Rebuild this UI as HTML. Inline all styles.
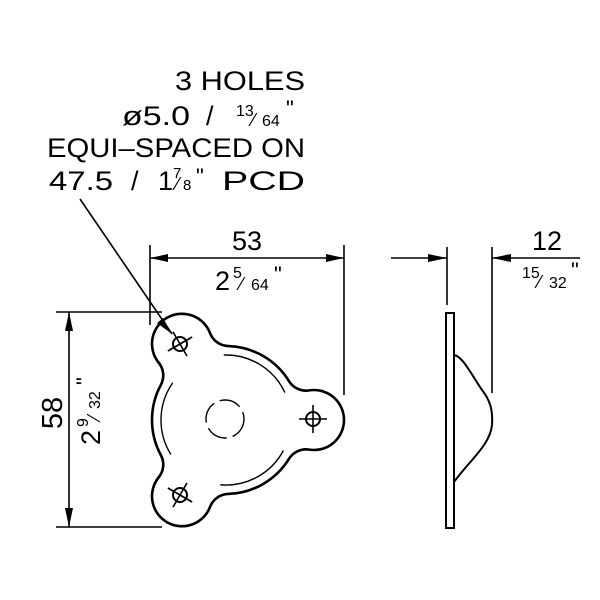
<!DOCTYPE html>
<html><head><meta charset="utf-8"><style>
html,body{margin:0;padding:0;background:#fff}
svg{display:block}
text{font-family:"Liberation Sans",sans-serif;fill:#000}
</style></head><body>
<svg id="s" width="600" height="600" viewBox="0 0 600 600" xmlns="http://www.w3.org/2000/svg">
<g stroke="#000" fill="none" stroke-width="1.6">
<line x1="150" y1="245" x2="150" y2="325"/>
<line x1="344" y1="245" x2="344" y2="395"/>
<line x1="150" y1="258" x2="344" y2="258"/>
<line x1="56" y1="312" x2="162" y2="312"/>
<line x1="56" y1="527" x2="162" y2="527"/>
<line x1="69" y1="312" x2="69" y2="527"/>
<line x1="447" y1="247" x2="447" y2="305"/>
<line x1="492" y1="247" x2="492" y2="393"/>
<line x1="391" y1="258" x2="447" y2="258"/>
<line x1="492" y1="258" x2="580" y2="258"/>
<line x1="80" y1="199" x2="172" y2="334"/>
<rect x="446" y="313" width="8" height="215" stroke-width="2"/>
<path d="M454 355 C462 356 470 372 482 390 C490 400 493 410 492 425 C490 445 470 460 454 482" stroke-width="2"/>
</g>
<g fill="#000">
<polygon points="150,258 168,254 168,262"/>
<polygon points="344,258 326,254 326,262"/>
<polygon points="69,312 65,331 73,331"/>
<polygon points="69,527 65,508 73,508"/>
<polygon points="447,258 428,254 428,262"/>
<polygon points="492,258 511,254 511,262"/>
<polygon points="172,334 157,323 163,318"/>
</g>
<g id="front" stroke="#000" fill="none"></g>
<g font-size="27">
<text x="305" y="90" text-anchor="end" textLength="130" lengthAdjust="spacingAndGlyphs">3 HOLES</text>
<text x="122" y="125" textLength="68" lengthAdjust="spacingAndGlyphs">ø5.0</text>
<text x="206" y="125">/</text>
<text x="236" y="116" font-size="16">13</text>
<text x="252" y="126" font-size="18">⁄</text>
<text x="262" y="126" font-size="16">64</text>
<text x="286" y="116" font-size="22">"</text>
<text x="47" y="157" textLength="258" lengthAdjust="spacingAndGlyphs">EQUI–SPACED ON</text>
<text x="49" y="190" textLength="64" lengthAdjust="spacingAndGlyphs">47.5</text>
<text x="131" y="190">/</text>
<text x="158" y="190">1</text>
<text x="173" y="178" font-size="15">7</text>
<text x="176" y="190" font-size="18">⁄</text>
<text x="183" y="190" font-size="15">8</text>
<text x="196" y="184" font-size="22">"</text>
<text x="222" y="190" textLength="83" lengthAdjust="spacingAndGlyphs">PCD</text>
<text x="247" y="250" text-anchor="middle">53</text>
<text x="215" y="290">2</text>
<text x="233" y="278" font-size="16">5</text>
<text x="240" y="290" font-size="18">⁄</text>
<text x="251" y="290" font-size="16">64</text>
<text x="274" y="282" font-size="22">"</text>
<text x="532" y="250">12</text>
<text x="522" y="278" font-size="16">15</text>
<text x="538" y="288" font-size="18">⁄</text>
<text x="549" y="288" font-size="16">32</text>
<text x="571" y="278" font-size="22">"</text>
<g transform="translate(62,413) rotate(-90)"><text x="0" y="0" text-anchor="middle" font-size="29">58</text></g>
<g transform="translate(100,445) rotate(-90)">
<text x="0" y="0">2</text>
<text x="18" y="-12" font-size="16">9</text>
<text x="26" y="0" font-size="18">⁄</text>
<text x="36" y="0" font-size="16">32</text>
<text x="60" y="-8" font-size="22">"</text>
</g>
</g>
</svg>
<script>
(function(){
var g=document.getElementById('front'),NS='http://www.w3.org/2000/svg';
var cx=226,cy=420,Rb=74,R=88,rl=30,rf=20;
var a=Math.acos(((Rb+rf)*(Rb+rf)+R*R-(rl+rf)*(rl+rf))/(2*(Rb+rf)*R));
var deg=[0,120,240],d='';
function P(r,t){return [cx+r*Math.cos(t),cy+r*Math.sin(t)];}
deg.forEach(function(dd,i){
 var h=dd*Math.PI/180,H=P(R,h);
 var f1=h-a,f2=h+a,F1=P(Rb+rf,f1),F2=P(Rb+rf,f2);
 var b1=P(Rb,f1),b2=P(Rb,f2);
 function lp(F){var dx=F[0]-H[0],dy=F[1]-H[1],l=Math.hypot(dx,dy);return [H[0]+dx/l*rl,H[1]+dy/l*rl];}
 var l1=lp(F1),l2=lp(F2);
 if(i==0)d+='M'+b1;else d+=' A'+Rb+' '+Rb+' 0 0 1 '+b1;
 d+=' A'+rf+' '+rf+' 0 0 0 '+l1+' A'+rl+' '+rl+' 0 1 1 '+l2+' A'+rf+' '+rf+' 0 0 0 '+b2;
});
d+=' A'+Rb+' '+Rb+' 0 0 1 '+P(Rb,-a)+'Z';
function el(n,at){var e=document.createElementNS(NS,n);for(var k in at)e.setAttribute(k,at[k]);g.appendChild(e);return e;}
el('path',{d:d,'stroke-width':2.6});
var ri=65;
deg.forEach(function(dd){
 var s=(dd+28)*Math.PI/180,e=(dd+95)*Math.PI/180;
 el('path',{d:'M'+P(ri,s)+' A'+ri+' '+ri+' 0 0 1 '+P(ri,e),'stroke-width':1.4});
});
el('circle',{cx:225,cy:419,r:19,'stroke-width':1.4,'stroke-dasharray':'22 6'});
var holes=[[313,419,0],[180,344,-30],[180,495,30]];
holes.forEach(function(h){
 el('circle',{cx:h[0],cy:h[1],r:7,'stroke-width':2});
 var t=h[2]*Math.PI/180,c=Math.cos(t),s=Math.sin(t),L=14;
 el('line',{x1:h[0]-L*c,y1:h[1]-L*s,x2:h[0]+L*c,y2:h[1]+L*s,'stroke-width':1.6});
 el('line',{x1:h[0]+L*s,y1:h[1]-L*c,x2:h[0]-L*s,y2:h[1]+L*c,'stroke-width':1.6});
});
})();
</script>
</body></html>
